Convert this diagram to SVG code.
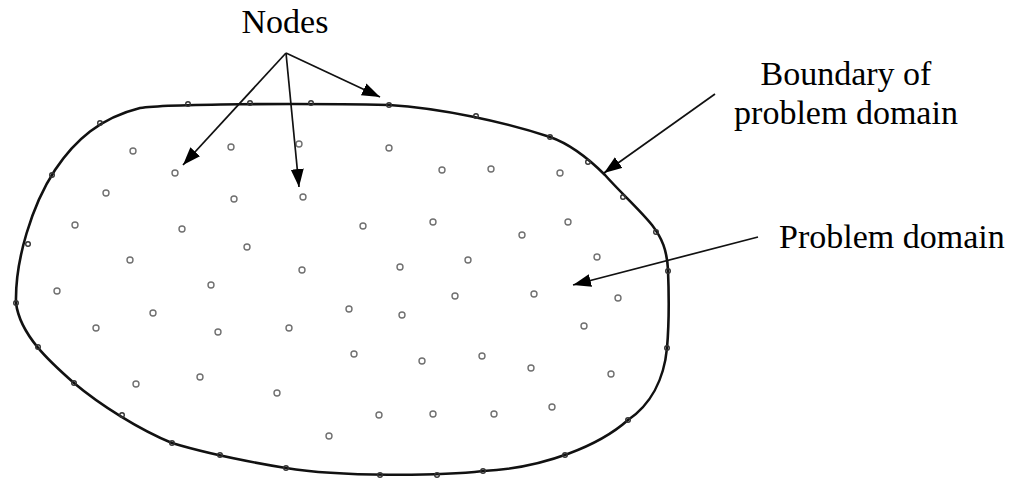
<svg xmlns="http://www.w3.org/2000/svg" width="1014" height="481" viewBox="0 0 1014 481">
<style>
.lbl{font-family:"Liberation Serif","Times New Roman",serif;font-size:34px;fill:#000}
.bd{fill:none;stroke:#111;stroke-width:2.6}
.in{fill:#fff;stroke:#707070;stroke-width:1.4}
.bn{fill:none;stroke:#333;stroke-width:1.4}
.ar{fill:none;stroke:#111;stroke-width:1.7}
</style>
<defs>
<marker id="ah" markerUnits="userSpaceOnUse" markerWidth="20" markerHeight="16" refX="18" refY="6.5" orient="auto">
<path d="M0,0 L18,6.5 L0,13 z" fill="#000"/>
</marker>
</defs>
<rect width="1014" height="481" fill="#fff"/>
<g id="domain">
<path class="bd" d="M16,303 C15,260 32,205 55,170 C75,140 100,118 140,108 C165,104 300,103 389,105 C440,108 505,122 550,137 C570,144 590,160 605,175 C620,192 640,210 652,225 C662,238 667,250 668,270 C669,295 669,325 667,348 C664,380 650,405 628,420 C600,445 545,468 483,471 C440,476 340,477 286,468 C250,462 205,453 172,443 C140,430 100,405 74,383 C50,362 20,335 16,303 Z"/>
</g>
<g id="boundary-nodes">
<circle id="b1" class="bn" cx="188" cy="104" r="2.3"/>
<circle id="b2" class="bn" cx="250" cy="103" r="2.3"/>
<circle id="b3" class="bn" cx="311" cy="103" r="2.3"/>
<circle id="b4" class="bn" cx="389" cy="105" r="2.3"/>
<circle id="b5" class="bn" cx="476" cy="116" r="2.3"/>
<circle id="b6" class="bn" cx="550" cy="137" r="2.3"/>
<circle id="b7" class="bn" cx="588" cy="162" r="2.3"/>
<circle id="b8" class="bn" cx="623" cy="197" r="2.3"/>
<circle id="b9" class="bn" cx="656" cy="232" r="2.3"/>
<circle id="b10" class="bn" cx="668" cy="271" r="2.3"/>
<circle id="b11" class="bn" cx="667" cy="348" r="2.3"/>
<circle id="b12" class="bn" cx="628" cy="420" r="2.3"/>
<circle id="b13" class="bn" cx="565" cy="455" r="2.3"/>
<circle id="b14" class="bn" cx="483" cy="471" r="2.3"/>
<circle id="b15" class="bn" cx="437" cy="475" r="2.3"/>
<circle id="b16" class="bn" cx="380" cy="475" r="2.3"/>
<circle id="b17" class="bn" cx="286" cy="468" r="2.3"/>
<circle id="b18" class="bn" cx="220" cy="455" r="2.3"/>
<circle id="b19" class="bn" cx="172" cy="443" r="2.3"/>
<circle id="b20" class="bn" cx="122" cy="415" r="2.3"/>
<circle id="b21" class="bn" cx="74" cy="383" r="2.3"/>
<circle id="b22" class="bn" cx="38" cy="347" r="2.3"/>
<circle id="b23" class="bn" cx="16" cy="303" r="2.3"/>
<circle id="b24" class="bn" cx="28" cy="244" r="2.3"/>
<circle id="b25" class="bn" cx="52" cy="175" r="2.3"/>
<circle id="b26" class="bn" cx="100" cy="123" r="2.3"/>
</g>
<g id="interior-nodes">
<circle id="i1" class="in" cx="133" cy="151" r="3"/>
<circle id="i2" class="in" cx="175" cy="173" r="3"/>
<circle id="i3" class="in" cx="231" cy="147" r="3"/>
<circle id="i4" class="in" cx="106" cy="193" r="3"/>
<circle id="i5" class="in" cx="234" cy="199" r="3"/>
<circle id="i6" class="in" cx="299" cy="144" r="3"/>
<circle id="i7" class="in" cx="303" cy="197" r="3"/>
<circle id="i8" class="in" cx="75" cy="225" r="3"/>
<circle id="i9" class="in" cx="182" cy="229" r="3"/>
<circle id="i10" class="in" cx="247" cy="247" r="3"/>
<circle id="i11" class="in" cx="130" cy="260" r="3"/>
<circle id="i12" class="in" cx="302" cy="270" r="3"/>
<circle id="i13" class="in" cx="389" cy="148" r="3"/>
<circle id="i14" class="in" cx="442" cy="170" r="3"/>
<circle id="i15" class="in" cx="491" cy="169" r="3"/>
<circle id="i16" class="in" cx="560" cy="173" r="3"/>
<circle id="i17" class="in" cx="363" cy="226" r="3"/>
<circle id="i18" class="in" cx="433" cy="222" r="3"/>
<circle id="i19" class="in" cx="568" cy="222" r="3"/>
<circle id="i20" class="in" cx="522" cy="235" r="3"/>
<circle id="i21" class="in" cx="597" cy="257" r="3"/>
<circle id="i22" class="in" cx="400" cy="267" r="3"/>
<circle id="i23" class="in" cx="468" cy="260" r="3"/>
<circle id="i24" class="in" cx="57" cy="291" r="3"/>
<circle id="i25" class="in" cx="211" cy="285" r="3"/>
<circle id="i26" class="in" cx="153" cy="313" r="3"/>
<circle id="i27" class="in" cx="96" cy="328" r="3"/>
<circle id="i28" class="in" cx="218" cy="332" r="3"/>
<circle id="i29" class="in" cx="289" cy="328" r="3"/>
<circle id="i30" class="in" cx="136" cy="384" r="3"/>
<circle id="i31" class="in" cx="200" cy="377" r="3"/>
<circle id="i32" class="in" cx="277" cy="393" r="3"/>
<circle id="i33" class="in" cx="329" cy="436" r="3"/>
<circle id="i34" class="in" cx="455" cy="296" r="3"/>
<circle id="i35" class="in" cx="534" cy="294" r="3"/>
<circle id="i36" class="in" cx="618" cy="298" r="3"/>
<circle id="i37" class="in" cx="349" cy="309" r="3"/>
<circle id="i38" class="in" cx="402" cy="315" r="3"/>
<circle id="i39" class="in" cx="584" cy="326" r="3"/>
<circle id="i40" class="in" cx="354" cy="354" r="3"/>
<circle id="i41" class="in" cx="422" cy="361" r="3"/>
<circle id="i42" class="in" cx="482" cy="356" r="3"/>
<circle id="i43" class="in" cx="531" cy="368" r="3"/>
<circle id="i44" class="in" cx="611" cy="374" r="3"/>
<circle id="i45" class="in" cx="379" cy="415" r="3"/>
<circle id="i46" class="in" cx="433" cy="414" r="3"/>
<circle id="i47" class="in" cx="494" cy="414" r="3"/>
<circle id="i48" class="in" cx="552" cy="407" r="3"/>
</g>
<g id="label-nodes">
<text class="lbl" x="285" y="33" text-anchor="middle">Nodes</text>
</g>
<g id="label-boundary">
<text class="lbl" x="846" y="85" text-anchor="middle">Boundary of</text>
<text class="lbl" x="846" y="124" text-anchor="middle">problem domain</text>
</g>
<g id="label-domain">
<text class="lbl" x="779" y="248">Problem domain</text>
</g>
<g id="connectors">
<line class="ar" x1="286" y1="53" x2="183" y2="165" marker-end="url(#ah)"/>
<line class="ar" x1="286" y1="53" x2="299" y2="187" marker-end="url(#ah)"/>
<line class="ar" x1="286" y1="53" x2="380" y2="97" marker-end="url(#ah)"/>
<line class="ar" x1="715" y1="94" x2="604" y2="173" marker-end="url(#ah)"/>
<line class="ar" x1="758" y1="237" x2="573" y2="285" marker-end="url(#ah)"/>
</g>
</svg>
